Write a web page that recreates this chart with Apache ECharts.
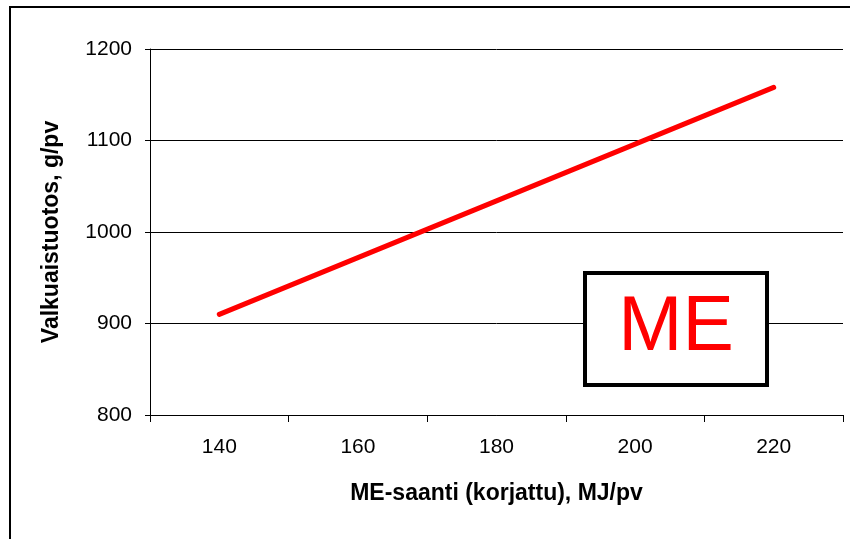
<!DOCTYPE html>
<html>
<head>
<meta charset="utf-8">
<script src="https://cdn.jsdelivr.net/npm/echarts@6/dist/echarts.min.js"></script>
<style>
  html, body { margin: 0; padding: 0; background: #fff; }
  #chart { width: 850px; height: 539px; }
</style>
</head>
<body>
<div id="chart"></div>
<script>
// ME intake categories (MJ/day) and predicted protein yield (g/day)
const meIntake = ['140', '160', '180', '200', '220'];
const proteinYield = [910, 972, 1034, 1096, 1158];
const yTicks = { min: 800, max: 1200, step: 100 };
const xTitle = 'ME-saanti (korjattu), MJ/pv';
const yTitle = 'Valkuaistuotos, g/pv';
const boxLabel = 'ME';

const FONT = "'Liberation Sans', Arial, sans-serif";

const chart = echarts.init(document.getElementById('chart'), null, { renderer: 'canvas' });

chart.setOption({
  animation: false,
  backgroundColor: '#fff',
  grid: { left: 150, right: 7, top: 49, bottom: 124, containLabel: false },
  xAxis: {
    type: 'category',
    data: meIntake,
    boundaryGap: true,
    name: xTitle,
    nameLocation: 'middle',
    nameGap: 67,
    nameTextStyle: { fontFamily: FONT, fontSize: 23, fontWeight: 'bold', color: '#000' },
    axisLine: { show: true, lineStyle: { color: '#000', width: 1 } },
    axisTick: { show: true, length: 7, alignWithLabel: false, lineStyle: { color: '#000' } },
    axisLabel: { fontFamily: FONT, fontSize: 21, color: '#000', margin: 22 },
    splitLine: { show: false }
  },
  yAxis: {
    type: 'value',
    min: yTicks.min,
    max: yTicks.max,
    interval: yTicks.step,
    name: yTitle,
    nameLocation: 'middle',
    nameGap: 87,
    nameRotate: 90,
    nameTextStyle: { fontFamily: FONT, fontSize: 23, fontWeight: 'bold', color: '#000' },
    axisLine: { show: true, lineStyle: { color: '#000', width: 1 } },
    axisTick: { show: true, length: 5, lineStyle: { color: '#000' } },
    axisLabel: { fontFamily: FONT, fontSize: 21, color: '#000', margin: 18, formatter: v => String(v) },
    splitLine: { show: true, lineStyle: { color: '#000', width: 1 } }
  },
  series: [{
    type: 'line',
    data: proteinYield,
    symbol: 'none',
    lineStyle: { color: '#ff0000', width: 5, cap: 'round' },
    z: 3
  }],
  graphic: [
    // frame edges along the left and top
    { type: 'line', shape: { x1: 10, y1: 6, x2: 10, y2: 539 }, style: { stroke: '#000', lineWidth: 2 }, z: 10 },
    { type: 'line', shape: { x1: 9, y1: 7, x2: 850, y2: 7 }, style: { stroke: '#000', lineWidth: 2 }, z: 10 },
    // boxed "ME" tag
    { type: 'rect', shape: { x: 585, y: 273, width: 182, height: 112 },
      style: { fill: '#fff', stroke: '#000', lineWidth: 4 }, z: 10 },
    { type: 'text', x: 676, y: 329,
      style: { text: boxLabel, fill: '#ff0000', font: '77px ' + FONT, align: 'center', verticalAlign: 'middle' }, z: 11 }
  ]
});
</script>
</body>
</html>
